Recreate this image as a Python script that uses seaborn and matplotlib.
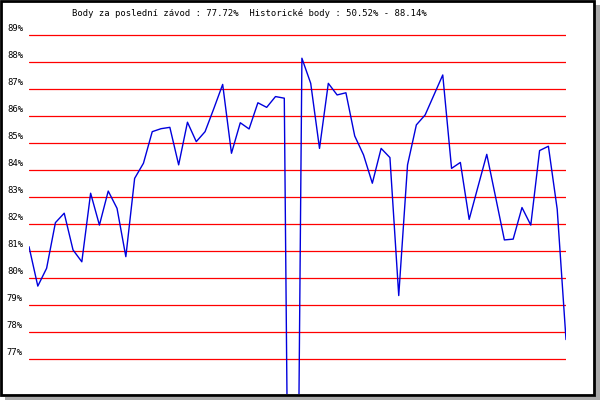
import numpy as np
import matplotlib
matplotlib.use('Agg')
import matplotlib.pyplot as plt
import matplotlib.transforms as mtransforms
from matplotlib.patches import Rectangle
import seaborn as sns

# Scores per race
scores = [81.16, 79.70, 80.36, 82.05, 82.40, 81.04, 80.60, 83.14, 81.96, 83.22,
          82.58, 80.79, 83.69, 84.25, 85.42, 85.53, 85.58, 84.19, 85.77, 85.05,
          85.42, 86.28, 87.17, 84.62, 85.75, 85.52, 86.49, 86.32, 86.72, 86.66,
          50.52, 88.14, 87.21, 84.80, 87.21, 86.78, 86.86, 85.26, 84.56, 83.51,
          84.80, 84.46, 79.35, 84.19, 85.67, 86.04, 86.78, 87.52, 84.06, 84.28,
          82.17, 83.38, 84.58, 83.00, 81.41, 81.44, 82.61, 81.96, 84.72, 84.88,
          82.55, 77.72]
races = np.arange(len(scores))
grid_levels = list(range(77, 90))
title = 'Body za poslední závod : 77.72%  Historické body : 50.52% - 88.14%'

sns.set_style('white')
plt.rcParams['font.family'] = ['DejaVu Sans Mono', 'DejaVu Sans']

W, H = 600, 400
fig = plt.figure(figsize=(6, 4), dpi=100)
fig.patch.set_facecolor('white')

# axes: x from 29px to 566px, y from 3px to 394px (from top), 27px per percent
ax = fig.add_axes([29 / W, (H - 394) / H, 537 / W, 391 / H])
ax.set_facecolor('none')
ax.set_xlim(0, len(scores) - 1)
ax.set_ylim(89 - (394 - 35) / 27, 89 + (35 - 3) / 27)

for lvl in grid_levels:
    ax.axhline(lvl, color='#ff0000', lw=0.9, zorder=1)

sns.lineplot(x=races, y=scores, ax=ax, color='#0000dd', lw=1.0, zorder=3)

ax.set_xticks([])
ax.set_yticks([])
ax.set_xlabel('')
ax.set_ylabel('')
for s in ax.spines.values():
    s.set_visible(False)

# y labels sit just above each grid line, left of the plot
lab_tr = mtransforms.offset_copy(ax.get_yaxis_transform(), fig=fig, x=-6, y=2, units='dots')
for lvl in grid_levels:
    ax.text(0, lvl, f'{lvl}%', transform=lab_tr, ha='right', va='bottom',
            fontsize=6.4, color='black', clip_on=False)

fig.text(72 / W, 1 - 13.5 / H, title, ha='left', va='center', fontsize=6.4, color='black')

# shadow and frame
fig.patches.append(Rectangle((5 / W, 0), (W - 5) / W, 3.5 / H, transform=fig.transFigure,
                             facecolor='#aaaaaa', edgecolor='none', zorder=5))
fig.patches.append(Rectangle(((W - 5) / W, 0), 5 / W, (H - 5) / H, transform=fig.transFigure,
                             facecolor='#aaaaaa', edgecolor='none', zorder=5))
fig.patches.append(Rectangle((1.2 / W, 4.8 / H), 593 / W, 394 / H, transform=fig.transFigure,
                             facecolor='none', edgecolor='black', lw=2.0, zorder=6))

fig.savefig('out.png', dpi=100)
